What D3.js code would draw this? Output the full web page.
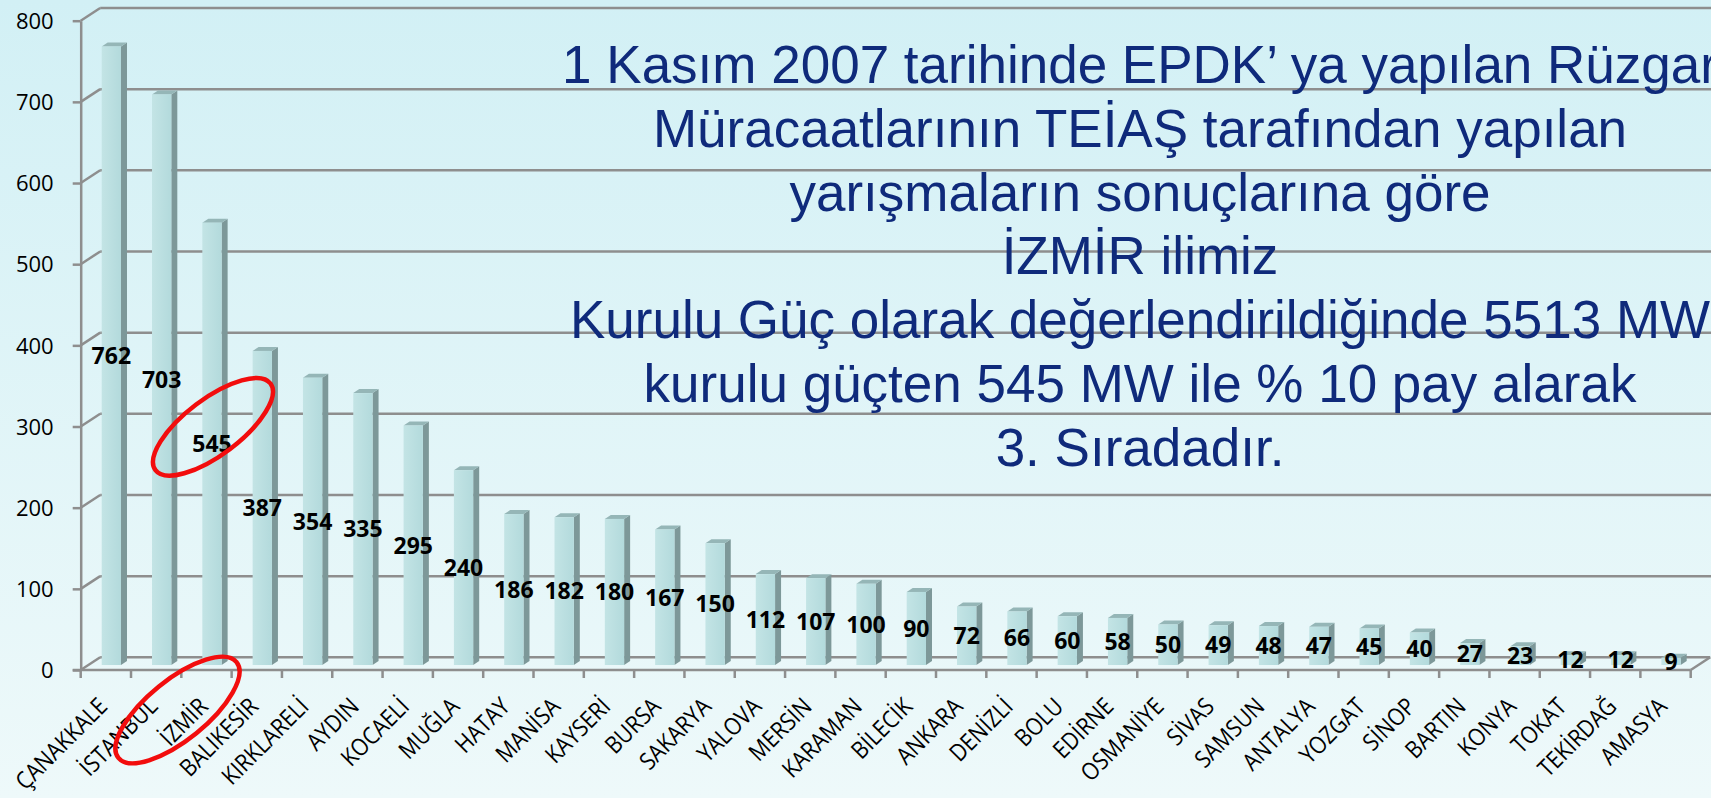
<!DOCTYPE html>
<html>
<head>
<meta charset="utf-8">
<script src="https://cdn.jsdelivr.net/npm/d3@7"></script>
<style>
  html, body { margin: 0; padding: 0; overflow: hidden; }
  #chart { width: 1711px; height: 798px; }
</style>
</head>
<body>
<div id="chart"></div>
<script>
// wind applications per province (MW)
var provinces = ["ÇANAKKALE","İSTANBUL","İZMİR","BALIKESİR","KIRKLARELİ","AYDIN","KOCAELİ","MUĞLA",
  "HATAY","MANİSA","KAYSERİ","BURSA","SAKARYA","YALOVA","MERSİN","KARAMAN","BİLECİK","ANKARA",
  "DENİZLİ","BOLU","EDİRNE","OSMANİYE","SİVAS","SAMSUN","ANTALYA","YOZGAT","SİNOP","BARTIN",
  "KONYA","TOKAT","TEKİRDAĞ","AMASYA"];
var capacityMW = [762,703,545,387,354,335,295,240,186,182,180,167,150,112,107,100,90,72,66,60,58,
  50,49,48,47,45,40,27,23,12,12,9];
var yTicks = [0,100,200,300,400,500,600,700,800];
var noteLines = [
  "1 Kasım 2007 tarihinde EPDK’ ya yapılan Rüzgar",
  "Müracaatlarının TEİAŞ tarafından yapılan",
  "yarışmaların sonuçlarına göre",
  "İZMİR ilimiz",
  "Kurulu Güç olarak değerlendirildiğinde 5513 MW",
  "kurulu güçten 545 MW ile % 10 pay alarak",
  "3. Sıradadır."
];
var highlight = "İZMİR";

var width = 1711, height = 798;
var DX = 19.5, DY = -12.7;   // depth of the 3d box
var gridColor = "#8e8e8e";

var svg = d3.select("#chart").append("svg")
  .attr("width", width).attr("height", height);

var defs = svg.append("defs");
var bg = defs.append("linearGradient").attr("id","bg").attr("x1",0).attr("y1",0).attr("x2",0).attr("y2",1);
bg.append("stop").attr("offset","0%").attr("stop-color","#d2f0f5");
bg.append("stop").attr("offset","100%").attr("stop-color","#eef9fa");
var face = defs.append("linearGradient").attr("id","face").attr("x1",0).attr("y1",0).attr("x2",1).attr("y2",0);
face.append("stop").attr("offset","0%").attr("stop-color","#c3e4e5");
face.append("stop").attr("offset","100%").attr("stop-color","#b3dadc");

svg.append("rect").attr("width",width).attr("height",height).attr("fill","url(#bg)");

var x = d3.scaleBand().domain(provinces).range([80.7, 1690.7]).padding(0);
var y = d3.scaleLinear().domain([0, 800]).range([670, 20.7]);
var x0 = x.range()[0], x1 = x.range()[1];

// back wall + side wall grid
var grid = svg.append("g").attr("stroke", gridColor).attr("stroke-width", 2.5).attr("fill","none");
grid.selectAll("line.back").data(yTicks).enter().append("line")
  .attr("class","back")
  .attr("x1", x0 + DX).attr("x2", function(d){ return d === 0 ? x1 + DX : width + 5; })
  .attr("y1", function(d){ return y(d) + DY; }).attr("y2", function(d){ return y(d) + DY; });
grid.selectAll("line.side").data(yTicks).enter().append("line")
  .attr("class","side")
  .attr("x1", x0).attr("y1", function(d){ return y(d); })
  .attr("x2", x0 + DX).attr("y2", function(d){ return y(d) + DY; });

// bars
var bw = 19.3, bd = 6, bdy = -4, base = y(0) - 5;
var bars = svg.append("g").selectAll("g").data(provinces).enter().append("g");
bars.each(function(p, i){
  var g = d3.select(this);
  var left = x(p) + 21, top = y(capacityMW[i]) - 5;
  g.append("polygon")
    .attr("points", [[left+bw,top],[left+bw+bd,top+bdy],[left+bw+bd,base+bdy],[left+bw,base]].join(" "))
    .attr("fill","#7d9899");
  g.append("polygon")
    .attr("points", [[left,top],[left+bd,top+bdy],[left+bw+bd,top+bdy],[left+bw,top]].join(" "))
    .attr("fill","#95b6b7");
  g.append("rect").attr("x", left).attr("y", top).attr("width", bw).attr("height", base - top)
    .attr("fill","url(#face)");
});

// y axis
var yAxis = d3.axisLeft(y).tickValues(yTicks).tickSize(8).tickSizeOuter(0).tickPadding(19);
var ya = svg.append("g").attr("transform","translate(" + x0 + ",0)").call(yAxis);
ya.select(".domain").attr("stroke", gridColor).attr("stroke-width", 2.5);
ya.selectAll(".tick line").attr("stroke", gridColor).attr("stroke-width", 2.5);
ya.selectAll(".tick text").attr("font-family","'Open Sans', sans-serif").attr("font-size", 22)
  .attr("fill","#000").attr("dy","0.35em");

// floor front edge + ticks
var floor = svg.append("g").attr("stroke", gridColor).attr("stroke-width", 2.5);
floor.append("line").attr("x1", x0 - 8).attr("x2", x1).attr("y1", y(0)).attr("y2", y(0));
floor.append("line").attr("x1", x1).attr("y1", y(0)).attr("x2", x1 + DX).attr("y2", y(0) + DY);
var bounds = provinces.map(function(p){ return x(p); }).concat([x1]);
floor.selectAll("line.xt").data(bounds).enter().append("line").attr("class","xt")
  .attr("x1", function(d){ return d; }).attr("x2", function(d){ return d; })
  .attr("y1", y(0)).attr("y2", y(0) + 8);

// category labels
svg.append("g").selectAll("text").data(provinces).enter().append("text")
  .attr("transform", function(p){
    return "translate(" + (x(p) + x.bandwidth()/2 + 3) + "," + (y(0) + 38) + ") rotate(-45) scale(0.88,1)";
  })
  .attr("text-anchor","end")
  .attr("font-family","'Open Sans', sans-serif").attr("font-size", 24).attr("fill","#000")
  .text(function(p){ return p; });

// value labels in the middle of each bar
svg.append("g").selectAll("text").data(provinces).enter().append("text")
  .attr("x", function(p){ return x(p) + 21 + bw/2; })
  .attr("y", function(p, i){ return (base + y(capacityMW[i]) - 5) / 2; })
  .attr("dy","0.36em").attr("text-anchor","middle")
  .attr("font-family","'Open Sans', sans-serif").attr("font-weight","bold").attr("font-size", 23)
  .attr("fill","#000")
  .text(function(p, i){ return capacityMW[i]; });

// note text
svg.append("g").selectAll("text").data(noteLines).enter().append("text")
  .attr("x", 1140).attr("y", function(d, i){ return 83 + i * 63.8; })
  .attr("text-anchor","middle")
  .attr("font-family","'Liberation Sans', Arial, sans-serif").attr("font-size", 53)
  .attr("fill","#0f2a7b")
  .text(function(d){ return d; });

// red rings around İzmir
var hi = provinces.indexOf(highlight);
var hx = x(highlight) + 21 + bw/2;
var hy = (base + y(capacityMW[hi]) - 5) / 2;
var rings = svg.append("g").attr("fill","none").attr("stroke","#f20d0d").attr("stroke-width", 4.5);
rings.append("ellipse").attr("rx", 72).attr("ry", 28)
  .attr("transform","translate(" + (hx + 1) + "," + (hy - 17) + ") rotate(-37)");
rings.append("ellipse").attr("rx", 76).attr("ry", 30)
  .attr("transform","translate(" + (x(highlight) + x.bandwidth()/2 - 29) + "," + (y(0) + 40) + ") rotate(-39)");
</script>
</body>
</html>
